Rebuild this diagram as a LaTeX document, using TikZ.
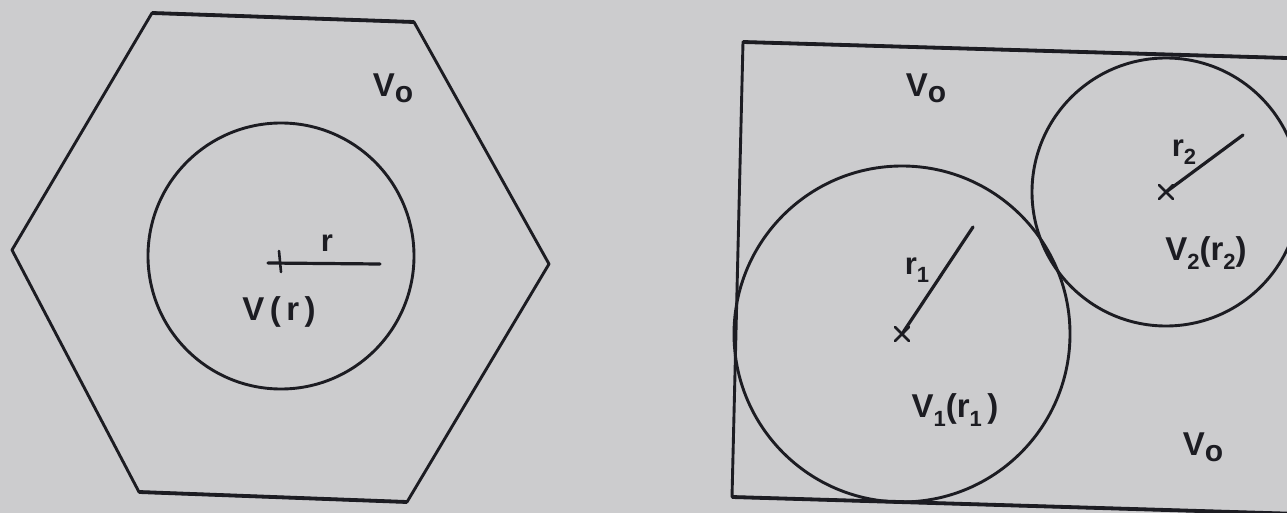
\documentclass[tikz,border=0pt]{standalone}
\usepackage{fontspec}
\usetikzlibrary{calc}
\setmainfont{Liberation Sans}
\definecolor{paper}{RGB}{204,204,206}
\definecolor{ink}{RGB}{28,28,34}
\newcommand\lsub[1]{\raisebox{-0.5ex}{\fontsize{22}{22}\selectfont #1}}
\newcommand\osub{\raisebox{-0.35ex}{\fontsize{30}{30}\selectfont o}}
\begin{document}
\begin{tikzpicture}[x=1pt,y=-1pt,
  edge/.style={draw=ink,line width=2.9pt,line join=round},
  heavy/.style={draw=ink,line width=3.8pt,line join=round},
  rad/.style={draw=ink,line width=3.2pt,line cap=round},
  tick/.style={draw=ink,line width=2.6pt,line cap=round},
  lab/.style={text=ink,inner sep=0pt,font=\fontsize{33}{33}\selectfont\bfseries},
  small/.style={text=ink,inner sep=0pt,font=\fontsize{31}{31}\selectfont\bfseries}]
\useasboundingbox (0,0) rectangle (1287,513);
\fill[paper] (0,0) rectangle (1287,513);
\clip (0,0) rectangle (1287,513);
% left: hexagon and circle
\coordinate (h1) at (152,13);
\coordinate (h2) at (414,22);
\coordinate (h3) at (549,264);
\coordinate (h4) at (407,502);
\coordinate (h5) at (139,492);
\coordinate (h6) at (12,250);
\draw[edge] (h1) -- (h2) -- (h3) -- (h4) -- (h5) -- (h6) -- cycle;
\draw[heavy] (h1) -- (h2);
\draw[heavy] (h4) -- (h5);
\coordinate (c0) at (281,256);
\draw[edge] (c0) circle[radius=133];
\coordinate (r0a) at (268,263);
\coordinate (r0b) at (380,264);
\draw[rad] (r0a) -- (r0b);
\coordinate (t0a) at (279,251);
\coordinate (t0b) at (281,272);
\draw[tick] (t0a) -- (t0b);
\node[small] (lr) at (327,243) {r};
\node[lab] (lvr) at (279,312) {V\,(\,r\,)};
\node[lab] (lv0a) at (393,88) {V\osub};
% right: tilted rectangle and two circles
\coordinate (q1) at (743,42);
\coordinate (q2) at (1300,58.4);
\coordinate (q3) at (732,497);
\coordinate (q4) at (1300,514);
\draw[edge] (q2) -- (q1) -- (q3) -- (q4);
\draw[heavy] (q1) -- (q2);
\draw[heavy] (q3) -- (q4);
\coordinate (c1) at (902,334);
\coordinate (c2) at (1166,192);
\draw[edge] (c1) circle[radius=168];
\draw[edge] (c2) circle[radius=134];
% radius 1
\coordinate (r1b) at (973,227);
\draw[rad] (c1) -- (r1b);
\draw[tick] ($(c1)+(-7,-7)$) -- ($(c1)+(7,7)$);
\draw[tick] ($(c1)+(-7,7)$) -- ($(c1)+(7,-7)$);
% radius 2
\coordinate (r2b) at (1243,135);
\draw[rad] (c2) -- (r2b);
\draw[tick] ($(c2)+(-7,-7)$) -- ($(c2)+(7,7)$);
\draw[tick] ($(c2)+(-7,7)$) -- ($(c2)+(7,-7)$);
\node[small] (lr1) at (917,270) {r\lsub{1}};
\node[small] (lr2) at (1184,152) {r\lsub{2}};
\node[lab] (lv1) at (955,410) {V\lsub{1}(r\lsub{1}\,)};
\node[lab] (lv2) at (1206,253) {V\lsub{2}(r\lsub{2})};
\node[lab] (lv0b) at (926,88) {V\osub};
\node[lab] (lv0c) at (1203,447) {V\osub};
\end{tikzpicture}
\end{document}
